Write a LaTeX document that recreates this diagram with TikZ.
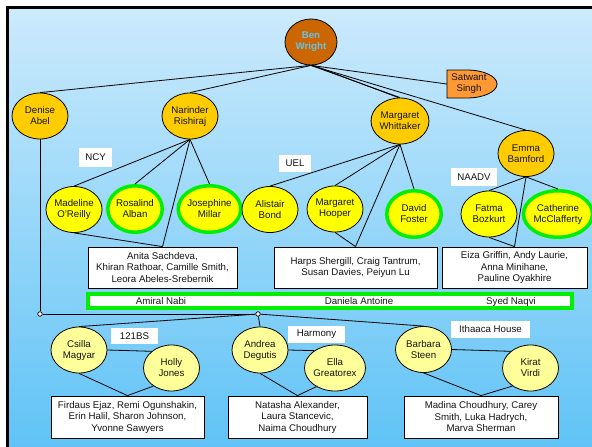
\documentclass[tikz,border=0pt]{standalone}
\usepackage{fontspec}
\setmainfont{Liberation Sans}
\usetikzlibrary{shapes.geometric}

\definecolor{bgtop}{RGB}{204,234,252}
\definecolor{bgbot}{RGB}{96,195,246}
\definecolor{gold}{RGB}{255,204,0}
\definecolor{yel}{RGB}{255,255,0}
\definecolor{lyel}{RGB}{255,255,153}
\definecolor{grn}{RGB}{0,238,0}
\definecolor{benfill}{RGB}{204,102,0}
\definecolor{bentext}{RGB}{102,194,236}
\definecolor{satfill}{RGB}{255,153,51}
\definecolor{txt}{RGB}{20,20,20}

\tikzset{
 base/.style={font=\fontsize{9.7}{11}\selectfont, text=txt, align=center, inner sep=0pt},
 ell/.style={base, ellipse, draw=black, line width=0.8pt, minimum width=56pt, minimum height=46pt},
 lead/.style={ell, fill=gold},
 mem/.style={ell, fill=yel},
 gmem/.style={ell, fill=yel, draw=grn, line width=3.5pt, minimum width=54.5pt, minimum height=46.5pt},
 low/.style={ell, fill=lyel},
 namebox/.style={base, draw=black, fill=white, line width=0.8pt, font=\fontsize{9.7}{11.5}\selectfont},
 tag/.style={base, fill=white},
 link/.style={draw=black, line width=0.8pt},
 junc/.style={circle, draw=black, fill=white, line width=0.7pt, minimum size=4.5pt, inner sep=0pt},
}

\begin{document}
\begin{tikzpicture}[x=1pt,y=-1pt]
\useasboundingbox (0,0) rectangle (592,447);
\fill[white] (0,0) rectangle (592,447);
\shade[top color=bgtop, bottom color=bgbot] (7.5,7.5) rectangle (592,447);
\draw[line width=2.5pt] (7.5,447) -- (7.5,7.5) -- (592,7.5);

% top
\node[base, ellipse, draw=black, fill=benfill, line width=0.8pt, minimum width=52pt, minimum height=46pt, text=bentext, font=\fontsize{9.7}{11}\selectfont\bfseries] (ben) at (311,42) {Ben\\Wright};
\filldraw[fill=satfill, draw=black, line width=0.8pt] (447,70) -- (467,70) arc[start angle=90, end angle=-90, x radius=30pt, y radius=14pt] -- (447,98) -- cycle;
\node[base, minimum width=44pt] (sat) at (469,84) {Satwant\\Singh};

\node[lead] (den) at (40,116) {Denise\\Abel};
\node[lead] (nar) at (190,116) {Narinder\\Rishiraj};
\node[lead] (mw) at (400,121) {Margaret\\Whittaker};
\node[lead] (emma) at (526,153.5) {Emma\\Bamford};

% tags
\node[tag, minimum width=33pt, minimum height=19pt] (tncy) at (95.5,157.5) {NCY};
\node[tag, minimum width=32pt, minimum height=17pt] (tuel) at (295,163.5) {UEL};
\node[tag, minimum width=46pt, minimum height=18pt] (tnaadv) at (474,177) {NAADV};
\node[tag, minimum width=47pt, minimum height=16pt] (t121) at (134.5,336) {121BS};
\node[tag, minimum width=57pt, minimum height=17pt] (tharm) at (316.5,334.5) {Harmony};
\node[tag, minimum width=79pt, minimum height=17pt] (tith) at (490.5,329.5) {Ithaaca House};

% second row
\node[mem] (mad) at (74,209.5) {Madeline\\O'Reilly};
\node[gmem] (ros) at (135,209) {Rosalind\\Alban};
\node[gmem] (jos) at (209.5,209) {Josephine\\Millar};
\node[mem] (ali) at (270,209.5) {Alistair\\Bond};
\node[mem] (hoo) at (335,209) {Margaret\\Hooper};
\node[gmem] (dav) at (414,214) {David\\Foster};
\node[mem] (fat) at (489,214) {Fatma\\Bozkurt};
\node[gmem] (cat) at (558,214) {Catherine\\McClafferty};

% boxes
\node[namebox, minimum width=149pt, minimum height=41pt] (bnc) at (162.5,267.5) {Anita Sachdeva,\\Khiran Rathoar, Camille Smith,\\Leora Abeles-Srebernik};
\node[namebox, minimum width=163pt, minimum height=41pt] (bue) at (355.5,267.5) {Harps Shergill, Craig Tantrum,\\Susan Davies, Peiyun Lu};
\node[namebox, minimum width=145pt, minimum height=41pt] (bna) at (514.5,267.5) {Eiza Griffin, Andy Laurie,\\Anna Minihane,\\Pauline Oyakhire};

% green bar
\node[draw=grn, fill=white, line width=4pt, minimum width=484pt, minimum height=14pt, inner sep=0pt] (gbar) at (330,301) {};
\node[base] (g1) at (161,301.5) {Amiral Nabi};
\node[base] (g2) at (359,301.5) {Daniela Antoine};
\node[base] (g3) at (511,301.5) {Syed Naqvi};

% bottom row
\node[low] (csi) at (79,350) {Csilla\\Magyar};
\node[low] (hol) at (171.5,368) {Holly\\Jones};
\node[low] (and) at (260,350) {Andrea\\Degutis};
\node[low] (ell) at (335,368) {Ella\\Greatorex};
\node[low] (bar) at (423.5,349.5) {Barbara\\Steen};
\node[low] (kir) at (530.5,368) {Kirat\\Virdi};

\node[namebox, minimum width=153pt, minimum height=42pt] (b121) at (127.5,417) {Firdaus Ejaz, Remi Ogunshakin,\\Erin Halil, Sharon Johnson,\\Yvonne Sawyers};
\node[namebox, minimum width=139pt, minimum height=42pt] (bhar) at (297.5,417) {Natasha Alexander,\\Laura Stancevic,\\Naima Choudhury};
\node[namebox, minimum width=154pt, minimum height=42pt] (bith) at (481,417) {Madina Choudhury, Carey\\Smith, Luka Hadrych,\\Marva Sherman};

% junctions
\node[junc] (c1) at (40,314) {};
\node[junc] (c2) at (258,314) {};

% connectors from top
\draw[link] (ben.south) -- (den.north);
\draw[link] (ben.south) -- (nar.north);
\draw[link] (ben.south) -- (mw.north);
\draw[link] ([xshift=2pt]ben.south) -- ([xshift=-1.5pt]mw.north);
\draw[link] (ben.south) -- (emma.north);
\draw[link] (ben.south) -- (sat.west);

% NCY
\draw[link] (nar.south) -- (mad.north);
\draw[link] (nar.south) -- (ros.north);
\draw[link] (nar.south) -- (jos.north);
\draw[link] (nar.south) -- (bnc.north);
\draw[link] (mad.south) -- (bnc.north);
% UEL
\draw[link] (mw.south) -- (ali.north);
\draw[link] (mw.south) -- (hoo.north);
\draw[link] (mw.south) -- (dav.north);
\draw[link] (mw.south) -- (bue.north);
\draw[link] (hoo.south) -- (bue.north);
% NAADV
\draw[link] (emma.south) -- (fat.north);
\draw[link] (emma.south) -- (cat.north);
\draw[link] (emma.south) -- (bna.north);
\draw[link] (fat.south) -- (bna.north);

% Denise branch
\draw[link] (den.south) -- (c1);
\draw[link] (c1) -- (c2);
\draw[link] (c2) -- (csi.north);
\draw[link] (c2) -- (and.north);
\draw[link] (c2) -- (bar.north);

% bottom groups
\draw[link] (csi.east) -- (hol.140);
\draw[link] (csi.south) -- (b121.north);
\draw[link] (hol.225) -- (b121.north);
\draw[link] (and.east) -- (ell.140);
\draw[link] (and.south) -- (bhar.north);
\draw[link] (ell.225) -- (bhar.north);
\draw[link] (bar.east) -- (kir.140);
\draw[link] (bar.south) -- (bith.north);
\draw[link] (kir.225) -- (bith.north);
\end{tikzpicture}
\end{document}
